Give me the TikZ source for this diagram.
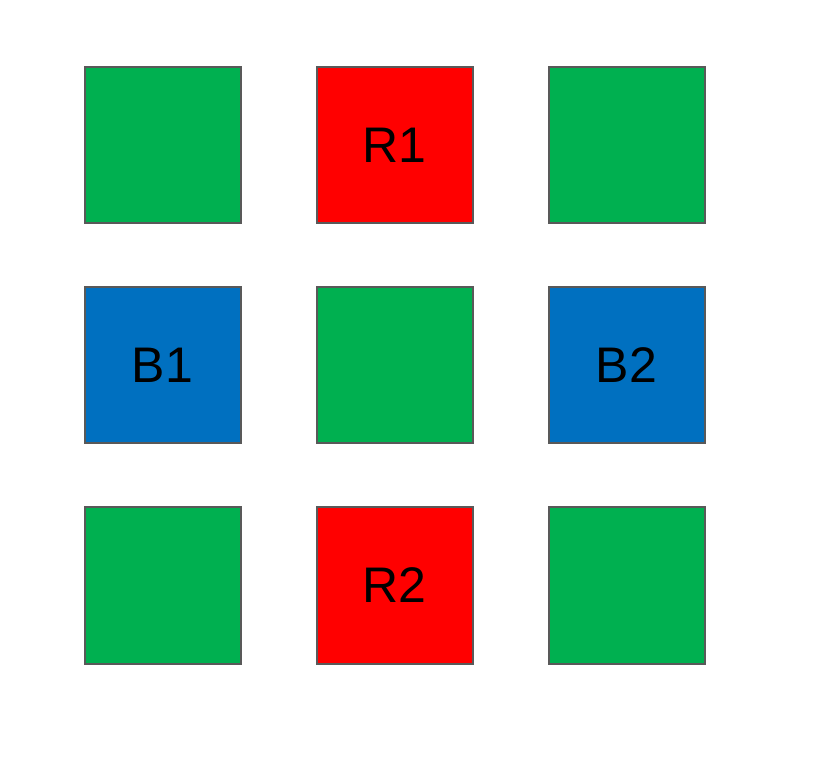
\documentclass[tikz,border=0pt]{standalone}
\usepackage{fontspec}
\setmainfont{Liberation Sans}
\definecolor{cg}{HTML}{00B050}
\definecolor{cr}{HTML}{FF0000}
\definecolor{cb}{HTML}{0070C0}
\definecolor{bd}{HTML}{595959}
\begin{document}
\begin{tikzpicture}[x=1pt,y=-1pt,
  cell/.style={draw=bd,line width=2pt,minimum size=156pt,inner sep=0pt,font=\fontsize{50}{50}\selectfont}]
\useasboundingbox (0,0) rectangle (823,767);
\node[cell,fill=cg] (a) at (162.5,145.5) {};
\node[cell,fill=cr] (b) at (394.5,145.5) {R1};
\node[cell,fill=cg] (c) at (626.5,145.5) {};
\node[cell,fill=cb] (d) at (162.5,365.5) {B1};
\node[cell,fill=cg] (e) at (394.5,365.5) {};
\node[cell,fill=cb] (f) at (626.5,365.5) {B2};
\node[cell,fill=cg] (g) at (162.5,585.5) {};
\node[cell,fill=cr] (h) at (394.5,585.5) {R2};
\node[cell,fill=cg] (i) at (626.5,585.5) {};
\end{tikzpicture}
\end{document}
